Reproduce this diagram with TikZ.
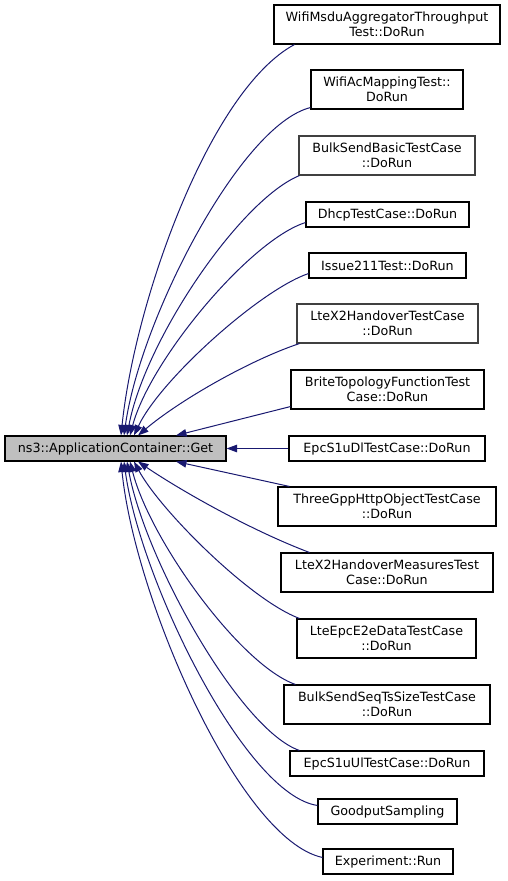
\documentclass[tikz,border=0pt]{standalone}
\usepackage{fontspec}
\setmainfont{DejaVu Sans}
\usetikzlibrary{arrows.meta}
\definecolor{edgeblue}{HTML}{191970}
\definecolor{mainfill}{HTML}{BFBFBF}
\definecolor{greyborder}{HTML}{404040}
\begin{document}
\begin{tikzpicture}[x=1pt,y=-1pt,
  fn/.style={draw=black, fill=white, line width=1.1pt, inner sep=0pt, align=center,
    font=\fontsize{12.7}{15}\selectfont, text=black},
  gfn/.style={fn, draw=greyborder},
  mainfn/.style={fn, fill=mainfill},
  edge/.style={draw=edgeblue, line width=1pt, -{Triangle[length=10.5pt,width=7.5pt]}},
  two/.style={minimum height=39pt},
  one/.style={minimum height=25pt}]
\useasboundingbox (0,0) rectangle (507,881);
\node[mainfn, one, minimum width=221pt] (main) at (115.5,448.5) {ns3::ApplicationContainer::Get};
\node[fn, two, minimum width=226pt] (b1) at (387,24.5) {WifiMsduAggregatorThroughput\\Test::DoRun};
\node[fn, two, minimum width=152pt] (b2) at (387,89.5) {WifiAcMappingTest::\\DoRun};
\node[gfn, two, minimum width=176pt] (b3) at (387,155.5) {BulkSendBasicTestCase\\::DoRun};
\node[fn, one, minimum width=163pt] (b4) at (387.5,214.5) {DhcpTestCase::DoRun};
\node[fn, one, minimum width=157pt] (b5) at (387.5,265.5) {Issue211Test::DoRun};
\node[gfn, two, minimum width=181pt] (b6) at (387.5,323.5) {LteX2HandoverTestCase\\::DoRun};
\node[fn, two, minimum width=193pt] (b7) at (387.5,389.5) {BriteTopologyFunctionTest\\Case::DoRun};
\node[fn, one, minimum width=196pt] (b8) at (387,448.5) {EpcS1uDlTestCase::DoRun};
\node[fn, two, minimum width=218pt] (b9) at (387,506.5) {ThreeGppHttpObjectTestCase\\::DoRun};
\node[fn, two, minimum width=212pt] (b10) at (387,572.5) {LteX2HandoverMeasuresTest\\Case::DoRun};
\node[fn, two, minimum width=179pt] (b11) at (386.5,638.5) {LteEpcE2eDataTestCase\\::DoRun};
\node[fn, two, minimum width=206pt] (b12) at (387,704.5) {BulkSendSeqTsSizeTestCase\\::DoRun};
\node[fn, one, minimum width=194pt] (b13) at (387,763.5) {EpcS1uUlTestCase::DoRun};
\node[fn, one, minimum width=139pt] (b14) at (387.5,811.5) {GoodputSampling};
\node[fn, one, minimum width=130pt] (b15) at (388,861.5) {Experiment::Run};
% upper edges
\draw[edge] ([xshift=21pt]b1.south west) .. controls (210,90) and (135,300) .. ([xshift=5.5pt]main.north);
\draw[edge] ([yshift=2pt]b2.south west) .. controls (240,125) and (140,320) .. ([xshift=8.5pt]main.north);
\draw[edge] ([xshift=1pt]b3.south west) .. controls (240,200) and (145,340) .. ([xshift=11.5pt]main.north);
\draw[edge] ([yshift=5pt]b4.south west) .. controls (250,240) and (150,360) .. ([xshift=14.5pt]main.north);
\draw[edge] ([yshift=5pt]b5.south west) .. controls (260,290) and (160,380) .. ([xshift=18.5pt]main.north);
\draw[edge] ([xshift=3pt]b6.south west) .. controls (250,360) and (180,400) .. ([xshift=22.5pt]main.north);
\draw[edge] ([yshift=3pt]b7.south west) -- ([xshift=60.5pt]main.north);
\draw[edge] (b8.west) -- (main.east);
% lower edges
\draw[edge] ([xshift=12pt]b9.north west) -- ([xshift=60.5pt]main.south);
\draw[edge] ([xshift=29pt]b10.north west) .. controls (250,530) and (180,490) .. ([xshift=22.5pt]main.south);
\draw[edge] ([xshift=3pt]b11.north west) .. controls (250,600) and (160,510) .. ([xshift=18.5pt]main.south);
\draw[edge] ([xshift=12pt]b12.north west) .. controls (240,665) and (150,540) .. ([xshift=14.5pt]main.south);
\draw[edge] ([xshift=10pt]b13.north west) .. controls (240,730) and (145,560) .. ([xshift=11.5pt]main.south);
\draw[edge] ([yshift=-7pt]b14.north west) .. controls (245,795) and (140,580) .. ([xshift=8.5pt]main.south);
\draw[edge] ([yshift=-9pt]b15.north west) .. controls (240,840) and (135,600) .. ([xshift=5.5pt]main.south);
\end{tikzpicture}
\end{document}
